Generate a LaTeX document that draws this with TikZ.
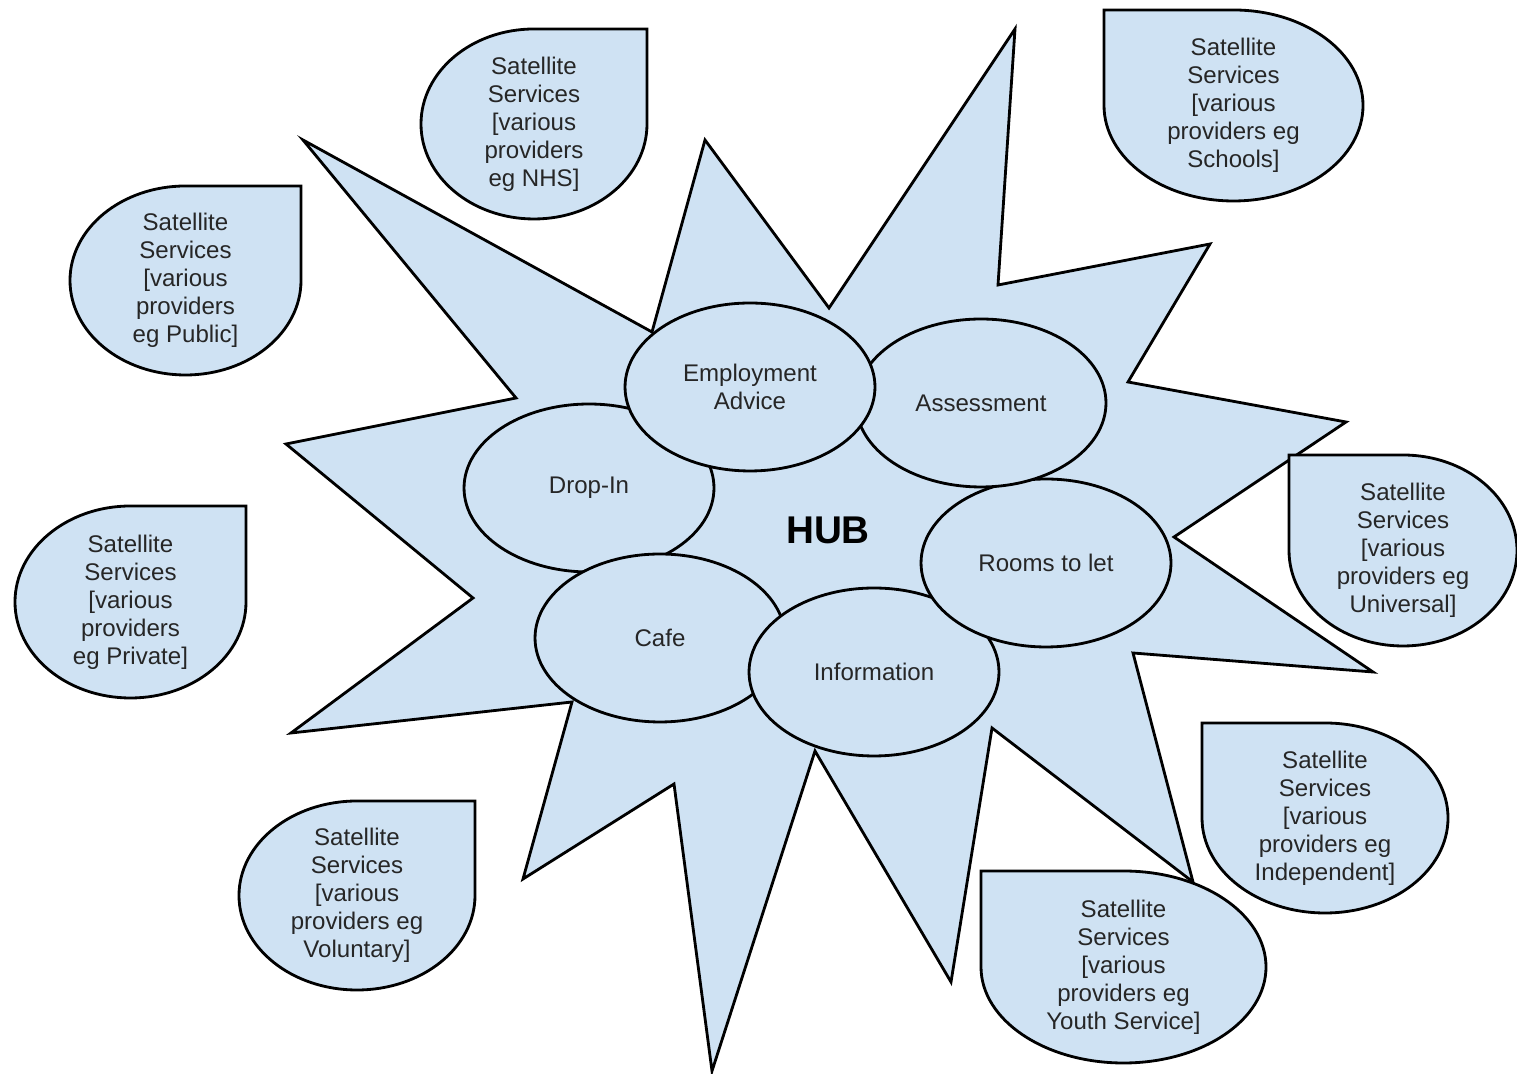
\documentclass[tikz,border=0pt]{standalone}
\usepackage{fontspec}
\setmainfont{Liberation Sans}
\usetikzlibrary{
  shapes.geometric,
  calc
}
\definecolor{hubfill}{HTML}{CFE2F3}

% name, centre, x radius, y radius, start angle of the round part, text
\newcommand{\satdrop}[6]{%
  \path[satshape, shift={(#2)}]
    ({#5-45}:{1.41421*#3} and {1.41421*#4}) -- (#5:#3 and #4)
    arc[start angle=#5, delta angle=270, x radius=#3, y radius=#4] -- cycle;
  \node[sattext] (#1) at (#2) {#6};
}

\begin{document}
\begin{tikzpicture}[
      x=0.02cm,
      y=0.02cm,
      font=\fontsize{13.7}{15.9}\selectfont,
      burst/.style={
        draw=black,
        fill=hubfill,
        line width=1.6pt,
        line join=miter
      },
      service/.style={
        ellipse,
        draw=black,
        fill=hubfill,
        line width=1.6pt,
        minimum width=5cm,
        minimum height=3.36cm,
        inner sep=0pt,
        align=center,
        text=black!85
      },
      satshape/.style={
        draw=black,
        fill=hubfill,
        line width=1.6pt
      },
      sattext/.style={
        align=center,
        inner sep=0pt,
        text=black!85
      },
      hublabel/.style={
        font=\fontsize{22}{26}\selectfont\bfseries,
        text=black
      }
    ]

    \path[use as bounding box, fill=white] (0,0) rectangle (1517,1074);

    % Hub burst
    \draw[burst] (303,934) -- (652,742) -- (705,934) -- (829,766)
      -- (1015,1045) -- (998,789) -- (1210,830) -- (1128,692)
      -- (1346,652) -- (1174,537) -- (1373,402) -- (1133,421)
      -- (1193,192) -- (992,346) -- (951,92) -- (815,323)
      -- (712,3) -- (674,290) -- (523,195) -- (572,372)
      -- (291,341) -- (473,476) -- (286,630) -- (516,676) -- cycle;

    % Services in the hub
    \node[service] (dropin) at (589,586) {Drop-In};
    \node[service] (cafe) at (660,436) {Cafe};
    \node[service] (info) at (874,402) {Information};
    \node[service] (rooms) at (1046,511) {Rooms to let};
    \node[service] (assess) at (981,671) {Assessment};
    \node[service] (employ) at (750,687) {Employment\\Advice};

    \node[hublabel] (hub) at (828,544) {HUB};

    % Satellite services
    \satdrop{nhs}{534,950}{113}{95}{90}
      {Satellite\\Services\\{[}various\\providers\\eg NHS]}
    \satdrop{public}{185.5,793.5}{115.5}{94.5}{90}
      {Satellite\\Services\\{[}various\\providers\\eg Public]}
    \satdrop{private}{130.5,472}{115.5}{96}{90}
      {Satellite\\Services\\{[}various\\providers\\eg Private]}
    \satdrop{voluntary}{357,178.5}{118}{94.5}{90}
      {Satellite\\Services\\{[}various\\providers eg\\Voluntary]}
    \satdrop{schools}{1233.5,968.5}{129.5}{95.5}{180}
      {Satellite\\Services\\{[}various\\providers eg\\Schools]}
    \satdrop{universal}{1403,523.5}{114}{95.5}{180}
      {Satellite\\Services\\{[}various\\providers eg\\Universal]}
    \satdrop{independent}{1325,256}{123}{95}{180}
      {Satellite\\Services\\{[}various\\providers eg\\Independent]}
    \satdrop{youth}{1123.5,107}{142.5}{96}{180}
      {Satellite\\Services\\{[}various\\providers eg\\Youth Service]}

    \end{tikzpicture}
\end{document}
